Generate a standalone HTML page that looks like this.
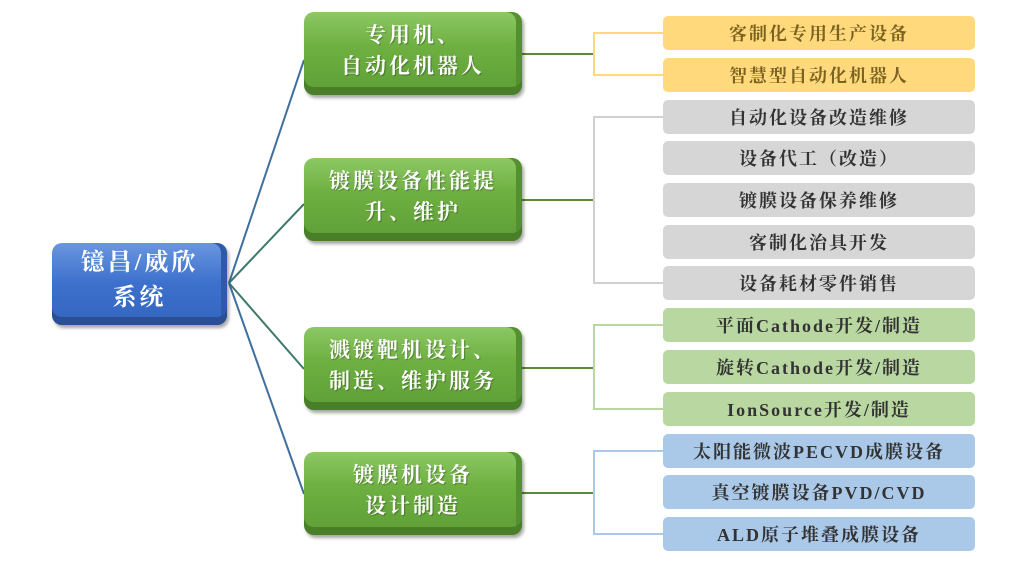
<!DOCTYPE html>
<html><head><meta charset="utf-8"><style>
body{margin:0;width:1024px;height:576px;background:#fff;position:relative;overflow:hidden;font-family:"Liberation Serif","Noto Serif CJK SC",serif}
.b{position:absolute;display:flex;align-items:center;justify-content:center;text-align:center;box-sizing:border-box}
.mid{left:304px;width:218px;height:83px;border-radius:10px;background:linear-gradient(#8cc864,#6fb042 40%,#5e9e36);color:#fff;font-size:21px;line-height:31px;letter-spacing:3px;box-shadow:inset 0 -8px 0 #4a7f2a,inset -6px 0 0 #558f30,2px 3px 3px rgba(0,0,0,.35);text-shadow:1px 1px 1px rgba(0,0,0,.3);padding-bottom:6px;font-weight:bold}
.root{left:52px;top:243px;width:175px;height:82px;border-radius:10px;background:linear-gradient(#6a96e0,#3c70cc 50%,#3466c0);color:#fff;font-size:24px;line-height:35px;letter-spacing:3px;box-shadow:inset 0 -8px 0 #2a4f95,inset -6px 0 0 #2e5aa8,2px 3px 3px rgba(0,0,0,.35);padding-bottom:6px;font-weight:bold}
.r{left:663px;width:312px;height:34px;border-radius:5px;font-size:18px;color:#333;letter-spacing:2px;font-weight:bold}
.y{background:#ffd97c;color:#7a6220}.g{background:#d6d6d6}.gr{background:#b8d7a1}.bl{background:#aac9e8}
</style></head><body>
<svg width="1024" height="576" style="position:absolute;left:0;top:0">
<g fill="none" stroke-width="2">
<line x1="229" y1="283" x2="304" y2="60" stroke="#3f6fa0"/>
<line x1="229" y1="283" x2="304" y2="204" stroke="#3f7a6a"/>
<line x1="229" y1="283" x2="304" y2="369" stroke="#3f7a6a"/>
<line x1="229" y1="283" x2="304" y2="494" stroke="#3f6fa0"/>
<line x1="522" y1="54" x2="594" y2="54" stroke="#5a8a3a"/>
<line x1="522" y1="200" x2="594" y2="200" stroke="#5a8a3a"/>
<line x1="522" y1="368" x2="594" y2="368" stroke="#5a8a3a"/>
<line x1="522" y1="493" x2="594" y2="493" stroke="#5a8a3a"/>
<polyline points="663,33 594,33 594,75 663,75" stroke="#ffd97c"/>
<polyline points="663,117 594,117 594,283 663,283" stroke="#d0d0d0"/>
<polyline points="663,325 594,325 594,409 663,409" stroke="#b8d7a1"/>
<polyline points="663,451 594,451 594,534 663,534" stroke="#aac9e8"/>
</g></svg>
<div class="b root">镱昌/威欣<br>系统</div>
<div class="b mid" style="top:12px">专用机、<br>自动化机器人</div>
<div class="b mid" style="top:158px">镀膜设备性能提<br>升、维护</div>
<div class="b mid" style="top:327px">溅镀靶机设计、<br>制造、维护服务</div>
<div class="b mid" style="top:452px">镀膜机设备<br>设计制造</div>
<div class="b r y" style="top:16px">客制化专用生产设备</div>
<div class="b r y" style="top:58px">智慧型自动化机器人</div>
<div class="b r g" style="top:100px">自动化设备改造维修</div>
<div class="b r g" style="top:141px">设备代工（改造）</div>
<div class="b r g" style="top:183px">镀膜设备保养维修</div>
<div class="b r g" style="top:225px">客制化治具开发</div>
<div class="b r g" style="top:266px">设备耗材零件销售</div>
<div class="b r gr" style="top:308px">平面Cathode开发/制造</div>
<div class="b r gr" style="top:350px">旋转Cathode开发/制造</div>
<div class="b r gr" style="top:392px">IonSource开发/制造</div>
<div class="b r bl" style="top:434px">太阳能微波PECVD成膜设备</div>
<div class="b r bl" style="top:475px">真空镀膜设备PVD/CVD</div>
<div class="b r bl" style="top:517px">ALD原子堆叠成膜设备</div>
</body></html>
